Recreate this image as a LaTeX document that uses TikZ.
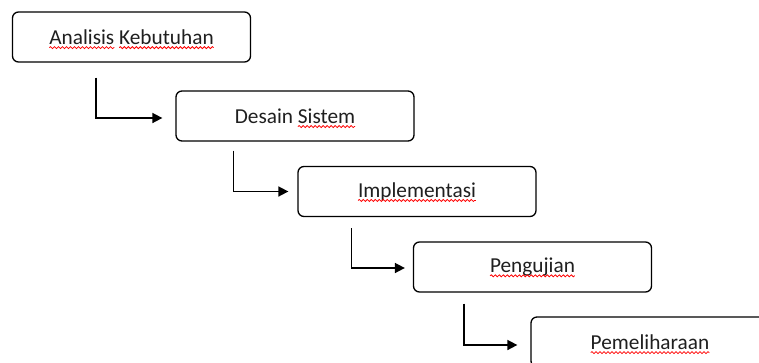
\documentclass[tikz,border=0pt]{standalone}
\usepackage{fontspec}
\setmainfont{Carlito}
\usetikzlibrary{arrows.meta,decorations.pathmorphing}
\newsavebox\wavebox
\newlength\wavelen
\newcommand\redwave[1]{\sbox\wavebox{#1}\setlength\wavelen{\wd\wavebox}\usebox\wavebox\tikz[overlay,baseline=0pt,x=1pt,y=1pt,sharp corners]\draw[red,line width=0.75pt,sharp corners,decorate,decoration={snake,amplitude=1pt,segment length=4pt}] (-\wavelen,-3.3pt) -- (0pt,-3.3pt);}
\tikzset{
  stage/.style={draw=black, line width=1.3pt, rounded corners=6pt, minimum width=238pt, minimum height=50pt, inner sep=0pt, font=\fontsize{21.3}{25}\selectfont, text=black!88},
  conn/.style={draw=black, line width=1.7pt, -{Triangle[length=10pt,width=10pt]}}
}
\begin{document}
\begin{tikzpicture}[x=1pt,y=-1pt]
\useasboundingbox (0,0) rectangle (759,362);
\clip (0,0) rectangle (759,362);
\node[stage] (b1) at (131.5,37) {\redwave{Analisis} \redwave{Kebutuhan}};
\node[stage] (b2) at (295,116) {Desain \redwave{Sistem}};
\node[stage] (b3) at (417,191.5) {\redwave{Implementasi}};
\node[stage] (b4) at (532.5,267) {\redwave{Pengujian}};
\node[stage] (b5) at (650,342) {\redwave{Pemeliharaan}};
\draw[conn] ([xshift=84pt,yshift=-15pt]b1.south west) |- ([xshift=-13pt,yshift=-2pt]b2.west);
\draw[conn] ([xshift=58pt,yshift=-9pt]b2.south west) |- ([xshift=-9pt]b3.west);
\draw[conn] ([xshift=54pt,yshift=-11pt]b3.south west) |- ([xshift=-8pt,yshift=-1pt]b4.west);
\draw[conn] ([xshift=51pt,yshift=-11pt]b4.south west) |- ([xshift=-13pt,yshift=-3pt]b5.west);
\end{tikzpicture}
\end{document}
